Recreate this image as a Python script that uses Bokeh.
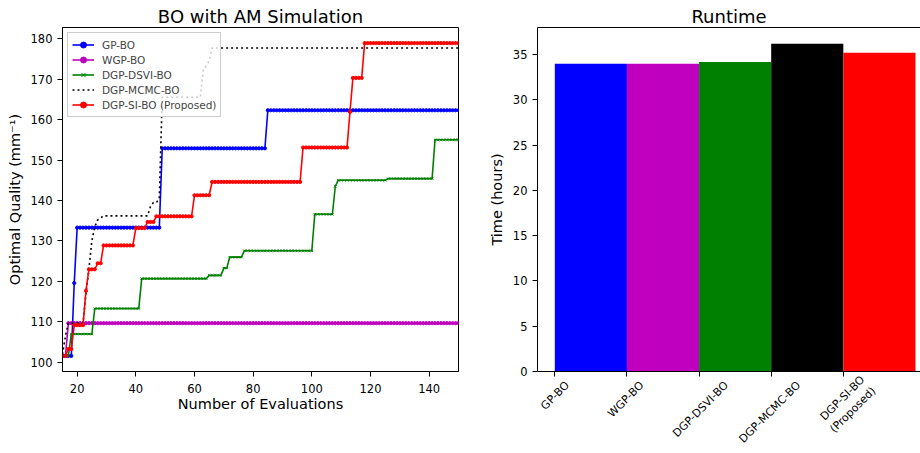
import numpy as np
from bokeh.plotting import figure
from bokeh.layouts import row
from bokeh.models import (Range1d, FixedTicker, LinearAxis, Legend, LegendItem, ColumnDataSource,
                          CustomJSTickFormatter, CustomLabelingPolicy)
from bokeh.embed import file_html
from bokeh.resources import INLINE

# ---------------- data ----------------
eval_first, eval_last = 15, 150

# best-so-far curves stored as (evaluation where value changes, new value)
gp_x = [15, 19, 20, 49, 85]
gp_y = [101.6, 119.6, 133.3, 152.9, 162.3]

wgp_x = [15, 17]
wgp_y = [101.6, 109.7]

dsvi_x = [15, 18, 26, 42, 65, 70, 72, 77, 101, 108, 109, 126, 142]
dsvi_y = [101.6, 107.0, 113.3, 120.7, 121.5, 123.3, 126.0, 127.6, 136.6, 143.5, 145.0, 145.4, 155.0]

mcmc_x = [15, 16, 17, 23, 24, 25, 26, 27, 28, 29, 45, 46, 48, 49, 63, 64, 65, 66]
mcmc_y = [102.0, 106.5, 109.7, 117.0, 123.0, 130.0, 133.5, 135.2, 135.7, 136.2, 138.5, 139.5, 140.5, 165.5, 172.5, 173.2, 174.5, 177.7]

si_x = [15, 17, 19, 23, 24, 27, 29, 40, 44, 47, 60, 66, 97, 113, 114, 118]
si_y = [101.6, 103.3, 109.2, 117.7, 123.0, 124.5, 128.9, 133.2, 134.7, 136.1, 141.3, 144.6, 153.1, 161.9, 170.3, 178.9]

methods = ["GP-BO", "WGP-BO", "DGP-DSVI-BO", "DGP-MCMC-BO", "DGP-SI-BO\n(Proposed)"]
runtime_hours = [34.0, 34.0, 34.2, 36.2, 35.2]

# ---------------- helpers ----------------
FONT = "DejaVu Sans"
evals = np.arange(eval_first, eval_last + 1)
HIDE_ALL = "for (const i of indices) indices.unset(i); return indices;"


def best_so_far(xs, ys):
    idx = np.searchsorted(np.asarray(xs), evals, side="right") - 1
    return np.asarray(ys)[idx]


def style_axes(p, tick_size="11.5px"):
    for ax in p.xaxis + p.yaxis:
        ax.major_label_text_font = FONT
        ax.major_label_text_font_size = tick_size
        ax.major_label_text_color = "black"
        ax.axis_label_text_font = FONT
        ax.axis_label_text_font_size = "14.5px"
        ax.axis_label_text_font_style = "normal"
        ax.axis_label_text_color = "black"
        ax.major_tick_out = 5
        ax.major_tick_in = 0
        ax.minor_tick_out = 0
        ax.minor_tick_in = 0
        ax.axis_line_color = "black"
        ax.major_tick_line_color = "black"
    p.xgrid.visible = False
    p.ygrid.visible = False
    p.title.text_font = FONT
    p.title.text_font_size = "18px"
    p.title.text_font_style = "normal"
    p.title.text_color = "black"
    p.title.align = "center"
    p.title.standoff = 2


# ---------------- left: BO with AM Simulation ----------------
p1 = figure(width=470, height=453, output_backend="svg", toolbar_location=None,
            title="BO with AM Simulation",
            x_range=Range1d(15, 150), y_range=Range1d(97.75, 182.75),
            min_border_left=62, min_border_right=12, min_border_top=27, min_border_bottom=81)
p1.xaxis.axis_label = "Number of Evaluations"
p1.yaxis.axis_label = "Optimal Quality (mm⁻¹)"
p1.xaxis.ticker = FixedTicker(ticks=[20, 40, 60, 80, 100, 120, 140])
p1.yaxis.ticker = FixedTicker(ticks=[100, 110, 120, 130, 140, 150, 160, 170, 180])
p1.outline_line_color = "black"
p1.outline_line_alpha = 1
style_axes(p1)
p1.xaxis.major_label_standoff = 7
p1.xaxis.axis_label_standoff = 0

items = []
series = [
    ("GP-BO", gp_x, gp_y, "#0000ff", "circle"),
    ("WGP-BO", wgp_x, wgp_y, "#bf00bf", "circle"),
    ("DGP-DSVI-BO", dsvi_x, dsvi_y, "#008000", "x"),
    ("DGP-MCMC-BO", mcmc_x, mcmc_y, "black", None),
    ("DGP-SI-BO (Proposed)", si_x, si_y, "#ff0000", "circle"),
]
for name, xs, ys, col, mk in series:
    src = ColumnDataSource(dict(x=evals, y=best_so_far(xs, ys)))
    rs = []
    if mk is None:
        rs.append(p1.line("x", "y", source=src, line_color=col, line_width=1.6, line_dash="2 3"))
    else:
        rs.append(p1.line("x", "y", source=src, line_color=col, line_width=1.6))
        rs.append(p1.scatter("x", "y", source=src, marker=mk, size=3.2,
                             line_color=col, fill_color=col, line_width=1))
    items.append(LegendItem(label=name, renderers=rs))

leg = Legend(items=items, location="top_left", margin=5, padding=4, spacing=0,
             label_text_font=FONT, label_text_font_size="10.5px",
             label_height=15, glyph_height=15, glyph_width=22, label_standoff=8,
             border_line_color="#cccccc", border_line_alpha=1,
             background_fill_alpha=0.8)
p1.add_layout(leg)

# ---------------- right: Runtime ----------------
X0, X1 = -0.24, 5.07
FRAME_W = 383
p2 = figure(width=450, height=453, output_backend="svg", toolbar_location=None,
            title="Runtime", x_axis_location=None,
            x_range=Range1d(X0, X1), y_range=Range1d(0, 38.0),
            min_border_left=67, min_border_right=0, min_border_top=27, min_border_bottom=81)
p2.yaxis.axis_label = "Time (hours)"
idx = np.arange(len(methods))
bar_src = ColumnDataSource(dict(left=idx, right=idx + 1, top=runtime_hours,
                                color=["#0000ff", "#bf00bf", "#008000", "black", "#ff0000"]))
p2.quad(left="left", right="right", bottom=0, top="top", source=bar_src,
        fill_color="color", line_color=None)
p2.outline_line_color = None
p2.yaxis.ticker = FixedTicker(ticks=[0, 5, 10, 15, 20, 25, 30, 35])

# axis with the tick marks only
tick_axis = LinearAxis(ticker=FixedTicker(ticks=list(idx)),
                       major_label_policy=CustomLabelingPolicy(code=HIDE_ALL))
p2.add_layout(tick_axis, "below")
# axis carrying the rotated labels, each shifted so its rotated box is centred on its tick
TICK_PX = 11
px_per_unit = FRAME_W / (X1 - X0)
label_ticks = []
for i, m in zip(idx, methods):
    w = max(len(s) for s in m.split("\n")) * 0.64 * TICK_PX
    label_ticks.append(round(float(i) + 0.354 * w / px_per_unit, 3))
label_axis = LinearAxis(ticker=FixedTicker(ticks=label_ticks),
                        formatter=CustomJSTickFormatter(args=dict(labels=methods),
                                                        code="return labels[Math.floor(tick + 1e-6)];"))
p2.add_layout(label_axis, "below")
top_axis = LinearAxis(ticker=FixedTicker(ticks=[]),
                      major_label_policy=CustomLabelingPolicy(code=HIDE_ALL))
p2.add_layout(top_axis, "above")
style_axes(p2)

tick_axis.major_label_standoff = 0
tick_axis.major_label_text_font_size = "1px"
label_axis.axis_line_color = None
label_axis.major_tick_line_color = None
label_axis.major_tick_out = 0
label_axis.major_label_standoff = 3
label_axis.major_label_text_font_size = f"{TICK_PX}px"
label_axis.major_label_orientation = np.pi / 4
top_axis.major_tick_out = 0
top_axis.major_tick_line_color = None
top_axis.major_label_text_font_size = "1px"
top_axis.major_label_standoff = 0

layout = row(p1, p2)
open("out.html", "w").write(file_html(layout, INLINE))
